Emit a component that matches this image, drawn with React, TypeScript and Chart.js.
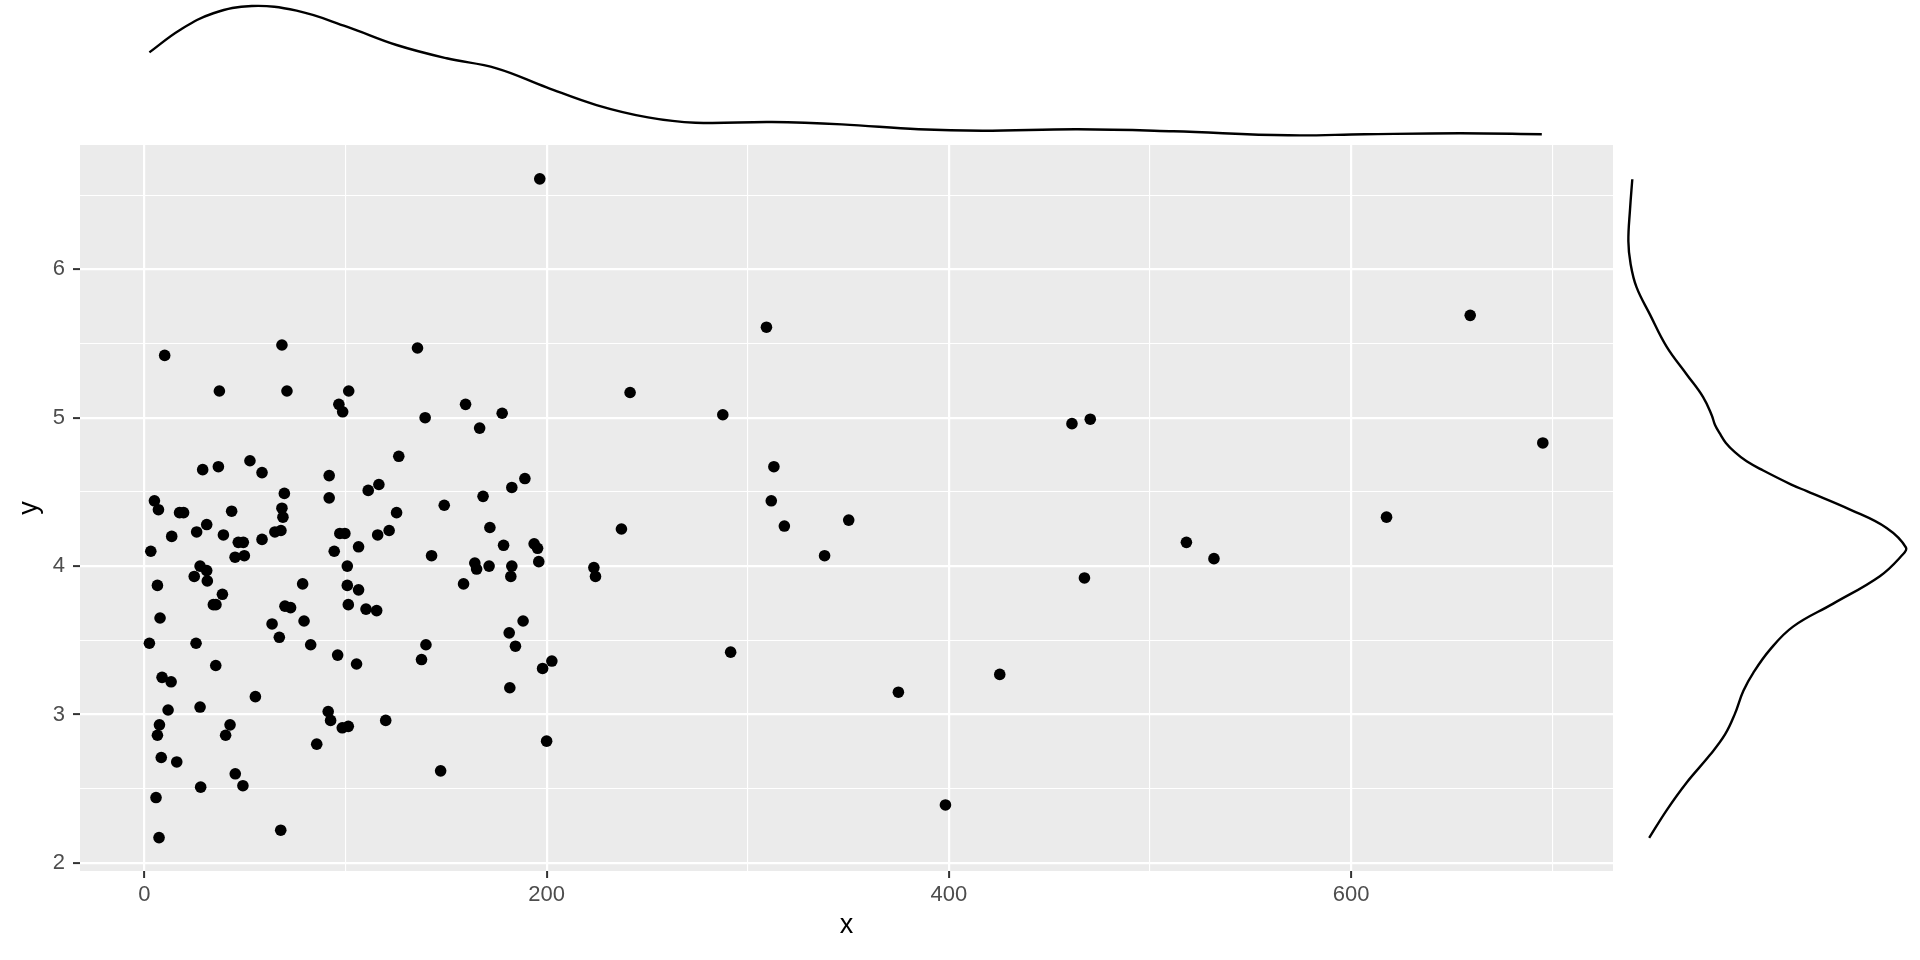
import React, { useEffect, useRef } from "react";
import { Chart, registerables } from "chart.js";

Chart.register(...registerables);

// ---- scatter data ----
const xValues = [
  52.5, 29.0, 36.8, 58.5, 91.9, 126.5, 5.0, 7.0, 17.5, 19.5, 43.4, 31.0, 26.0, 13.6, 39.3, 3.2,
  46.7, 49.2, 45.1, 49.7, 58.5, 64.9, 67.9, 69.6, 68.4, 68.9, 91.9, 111.3, 116.6, 125.4, 121.7,
  116.0, 97.2, 99.7, 94.4, 106.5, 100.9, 27.7, 31.0, 24.8, 31.3, 6.5, 38.8, 34.3, 35.6, 7.8, 2.5,
  25.7, 35.5, 8.8, 13.3, 11.8, 27.7, 7.5, 6.5, 42.6, 40.4, 8.4, 16.1, 45.2, 49.0, 28.0, 5.8, 7.3,
  67.8, 55.2, 78.7, 63.5, 67.1, 69.9, 72.7, 79.4, 82.7, 96.1, 105.5, 100.9, 106.5, 101.4, 110.2,
  115.5, 91.4, 92.6, 98.4, 101.4, 85.7, 120.0, 10.1, 68.4, 37.3, 70.9, 101.6, 96.7, 98.6, 196.6,
  309.3, 135.8, 241.5, 159.7, 139.6, 177.9, 166.7, 287.6, 149.1, 168.4, 182.7, 189.2, 171.8, 142.8,
  178.6, 193.8, 195.5, 196.1, 164.3, 165.2, 171.4, 182.7, 182.2, 158.7, 223.5, 224.3, 237.2, 188.3,
  181.4, 184.5, 140.0, 137.8, 202.6, 198.0, 181.7, 200.0, 147.3, 313.0, 311.7, 318.2, 291.5, 659.2,
  461.2, 470.3, 695.3, 617.6, 518.1, 531.8, 467.4, 425.3, 374.9, 398.3, 350.2, 338.2,
];
const yValues = [
  4.71, 4.65, 4.67, 4.63, 4.61, 4.74, 4.44, 4.38, 4.36, 4.36, 4.37, 4.28, 4.23, 4.2, 4.21, 4.1,
  4.16, 4.16, 4.06, 4.07, 4.18, 4.23, 4.24, 4.49, 4.39, 4.33, 4.46, 4.51, 4.55, 4.36, 4.24,
  4.21, 4.22, 4.22, 4.1, 4.13, 4.0, 4.0, 3.97, 3.93, 3.9, 3.87, 3.81, 3.74, 3.74, 3.65, 3.48,
  3.48, 3.33, 3.25, 3.22, 3.03, 3.05, 2.93, 2.86, 2.93, 2.86, 2.71, 2.68, 2.6, 2.52, 2.51, 2.44, 2.17,
  2.22, 3.12, 3.88, 3.61, 3.52, 3.73, 3.72, 3.63, 3.47, 3.4, 3.34, 3.87, 3.84, 3.74, 3.71,
  3.7, 3.02, 2.96, 2.91, 2.92, 2.8, 2.96, 5.42, 5.49, 5.18, 5.18, 5.18, 5.09, 5.04, 6.61,
  5.61, 5.47, 5.17, 5.09, 5.0, 5.03, 4.93, 5.02, 4.41, 4.47, 4.53, 4.59, 4.26, 4.07,
  4.14, 4.15, 4.12, 4.03, 4.02, 3.98, 4.0, 4.0, 3.93, 3.88, 3.99, 3.93, 4.25, 3.63,
  3.55, 3.46, 3.47, 3.37, 3.36, 3.31, 3.18, 2.82, 2.62, 4.67, 4.44, 4.27, 3.42, 5.69,
  4.96, 4.99, 4.83, 4.33, 4.16, 4.05, 3.92, 3.27, 3.15, 2.39, 4.31, 4.07,
];

// ---- axis ticks ----
const xMajorTicks = [0, 200, 400, 600];
const xMinorTicks = [100, 300, 500, 700];
const yMajorTicks = [2, 3, 4, 5, 6];
const yMinorTicks = [2.5, 3.5, 4.5, 5.5, 6.5];
const xTitle = "x";
const yTitle = "y";

// ---- marginal densities (relative height, peak = 1) ----
const topDensityX = [
  2.5, 17.7, 34.3, 53.4, 75.7, 100.6, 125.4, 150.3, 175.1, 200, 224.8, 250.4, 274, 312, 346.8,
  384.9, 416.6, 464.1, 511.6, 568.7, 606.7, 654.3, 694.8,
];
const topDensityValue = [
  0.654, 0.821, 0.946, 1.0, 0.965, 0.846, 0.709, 0.61, 0.535, 0.393, 0.261, 0.169, 0.129, 0.134,
  0.117, 0.08, 0.069, 0.08, 0.065, 0.035, 0.043, 0.05, 0.043,
];
const rightDensityY = [
  6.607, 6.407, 6.19, 6.036, 5.88, 5.695, 5.479, 5.293, 5.139, 5.015, 4.953, 4.892, 4.83, 4.768,
  4.706, 4.644, 4.551, 4.505, 4.381, 4.257, 4.124, 4.071, 3.932, 3.747, 3.592, 3.437, 3.282, 3.158,
  3.004, 2.865, 2.726, 2.54, 2.354, 2.168,
];
const rightDensityValue = [
  0.026, 0.018, 0.012, 0.02, 0.041, 0.089, 0.148, 0.219, 0.278, 0.309, 0.32, 0.338, 0.359, 0.391,
  0.433, 0.492, 0.59, 0.647, 0.801, 0.931, 1.0, 0.985, 0.907, 0.741, 0.598, 0.516, 0.457, 0.421,
  0.391, 0.356, 0.302, 0.219, 0.148, 0.086,
];

// ---- layout constants ----
const W = 1920;
const H = 960;
const PANEL_LEFT = 80;
const PANEL_RIGHT = 1613;
const PANEL_TOP = 145;
const PANEL_BOTTOM = 871;
const X_MIN = -32;
const X_MAX = 730.2;
const Y_MIN = 1.945;
const Y_MAX = 6.838;
const FONT = "'Liberation Sans', Arial, Helvetica, sans-serif";

const panelBg = {
  id: "panelBg",
  beforeDraw(chart: any) {
    const { ctx, chartArea: a } = chart;
    ctx.save();
    ctx.fillStyle = "#EBEBEB";
    ctx.fillRect(a.left, a.top, a.right - a.left, a.bottom - a.top);
    ctx.restore();
  },
};

function isMajor(list: number[], v: number) {
  return list.some((m) => Math.abs(m - v) < 1e-9);
}

export default function App() {
  const mainRef = useRef<HTMLCanvasElement>(null);
  const topRef = useRef<HTMLCanvasElement>(null);
  const rightRef = useRef<HTMLCanvasElement>(null);

  useEffect(() => {
    const charts: Chart[] = [];
    const xTicksAll = [...xMajorTicks, ...xMinorTicks].sort((a, b) => a - b);
    const yTicksAll = [...yMajorTicks, ...yMinorTicks].sort((a, b) => a - b);

    charts.push(
      new Chart(mainRef.current as HTMLCanvasElement, {
        type: "scatter",
        data: {
          datasets: [
            {
              data: xValues.map((x, i) => ({ x, y: yValues[i] })),
              pointRadius: 5.8,
              pointHoverRadius: 5.8,
              pointBackgroundColor: "#000000",
              pointBorderWidth: 0,
              borderWidth: 0,
            },
          ],
        },
        options: {
          responsive: false,
          animation: false,
          devicePixelRatio: 1,
          events: [],
          plugins: { legend: { display: false }, tooltip: { enabled: false } },
          layout: { padding: { top: PANEL_TOP, right: W - PANEL_RIGHT, left: 0, bottom: 0 } },
          scales: {
            x: {
              type: "linear",
              min: X_MIN,
              max: X_MAX,
              afterBuildTicks: (s: any) => {
                s.ticks = xTicksAll.map((v) => ({ value: v }));
              },
              afterFit: (s: any) => {
                s.height = H - PANEL_BOTTOM;
              },
              border: { display: false },
              grid: {
                color: "#FFFFFF",
                lineWidth: (c: any) => (isMajor(xMajorTicks, c.tick?.value) ? 2.2 : 1.1),
                drawTicks: true,
                tickLength: 7,
                tickWidth: 2,
                tickColor: (c: any) =>
                  isMajor(xMajorTicks, c.tick?.value) ? "#333333" : "rgba(0,0,0,0)",
              },
              ticks: {
                autoSkip: false,
                maxRotation: 0,
                minRotation: 0,
                padding: 4,
                color: "#4D4D4D",
                font: { size: 22, family: FONT },
                callback: (v: any) => (isMajor(xMajorTicks, Number(v)) ? String(v) : ""),
              },
              title: {
                display: true,
                text: xTitle,
                color: "#000000",
                font: { size: 27, family: FONT },
                padding: { top: 0, bottom: 18.6 },
              },
            },
            y: {
              type: "linear",
              min: Y_MIN,
              max: Y_MAX,
              afterBuildTicks: (s: any) => {
                s.ticks = yTicksAll.map((v) => ({ value: v }));
              },
              afterFit: (s: any) => {
                s.width = PANEL_LEFT;
              },
              border: { display: false },
              grid: {
                color: "#FFFFFF",
                lineWidth: (c: any) => (isMajor(yMajorTicks, c.tick?.value) ? 2.2 : 1.1),
                drawTicks: true,
                tickLength: 7,
                tickWidth: 2,
                tickColor: (c: any) =>
                  isMajor(yMajorTicks, c.tick?.value) ? "#333333" : "rgba(0,0,0,0)",
              },
              ticks: {
                autoSkip: false,
                padding: 8,
                color: "#4D4D4D",
                font: { size: 22, family: FONT },
                callback: (v: any) => (isMajor(yMajorTicks, Number(v)) ? String(v) : ""),
              },
              title: {
                display: true,
                text: yTitle,
                color: "#000000",
                font: { size: 27, family: FONT },
                padding: { top: 13.7, bottom: 0 },
              },
            },
          },
        },
        plugins: [panelBg],
      } as any)
    );

    charts.push(
      new Chart(topRef.current as HTMLCanvasElement, {
        type: "scatter",
        data: {
          datasets: [
            {
              data: topDensityX.map((x, i) => ({ x, y: topDensityValue[i] })),
              showLine: true,
              tension: 0.4,
              borderColor: "#000000",
              borderWidth: 2.4,
              pointRadius: 0,
              pointHoverRadius: 0,
            },
          ],
        },
        options: {
          responsive: false,
          animation: false,
          devicePixelRatio: 1,
          events: [],
          plugins: { legend: { display: false }, tooltip: { enabled: false } },
          layout: { padding: 0 },
          scales: {
            x: { type: "linear", display: false, min: X_MIN, max: X_MAX },
            y: { type: "linear", display: false, min: -0.0373, max: 1.0448 },
          },
        },
      } as any)
    );

    charts.push(
      new Chart(rightRef.current as HTMLCanvasElement, {
        type: "scatter",
        data: {
          datasets: [
            {
              data: rightDensityY.map((y, i) => ({ x: rightDensityValue[i], y })),
              showLine: true,
              tension: 0.4,
              borderColor: "#000000",
              borderWidth: 2.4,
              pointRadius: 0,
              pointHoverRadius: 0,
            },
          ],
        },
        options: {
          responsive: false,
          animation: false,
          devicePixelRatio: 1,
          events: [],
          plugins: { legend: { display: false }, tooltip: { enabled: false } },
          layout: { padding: { top: PANEL_TOP, bottom: H - PANEL_BOTTOM, left: 0, right: 0 } },
          scales: {
            x: { type: "linear", display: false, min: -0.0427, max: 1.0498 },
            y: { type: "linear", display: false, min: Y_MIN, max: Y_MAX },
          },
        },
      } as any)
    );

    return () => charts.forEach((c) => c.destroy());
  }, []);

  return (
    <div
      style={{
        position: "absolute",
        left: 0,
        top: 0,
        width: W,
        height: H,
        background: "#FFFFFF",
        overflow: "hidden",
      }}
    >
      <canvas
        ref={mainRef}
        width={W}
        height={H}
        style={{ position: "absolute", left: 0, top: 0, width: W, height: H }}
      />
      <canvas
        ref={topRef}
        width={PANEL_RIGHT - PANEL_LEFT}
        height={PANEL_TOP}
        style={{
          position: "absolute",
          left: PANEL_LEFT,
          top: 0,
          width: PANEL_RIGHT - PANEL_LEFT,
          height: PANEL_TOP,
        }}
      />
      <canvas
        ref={rightRef}
        width={W - PANEL_RIGHT}
        height={H}
        style={{ position: "absolute", left: PANEL_RIGHT, top: 0, width: W - PANEL_RIGHT, height: H }}
      />
    </div>
  );
}
